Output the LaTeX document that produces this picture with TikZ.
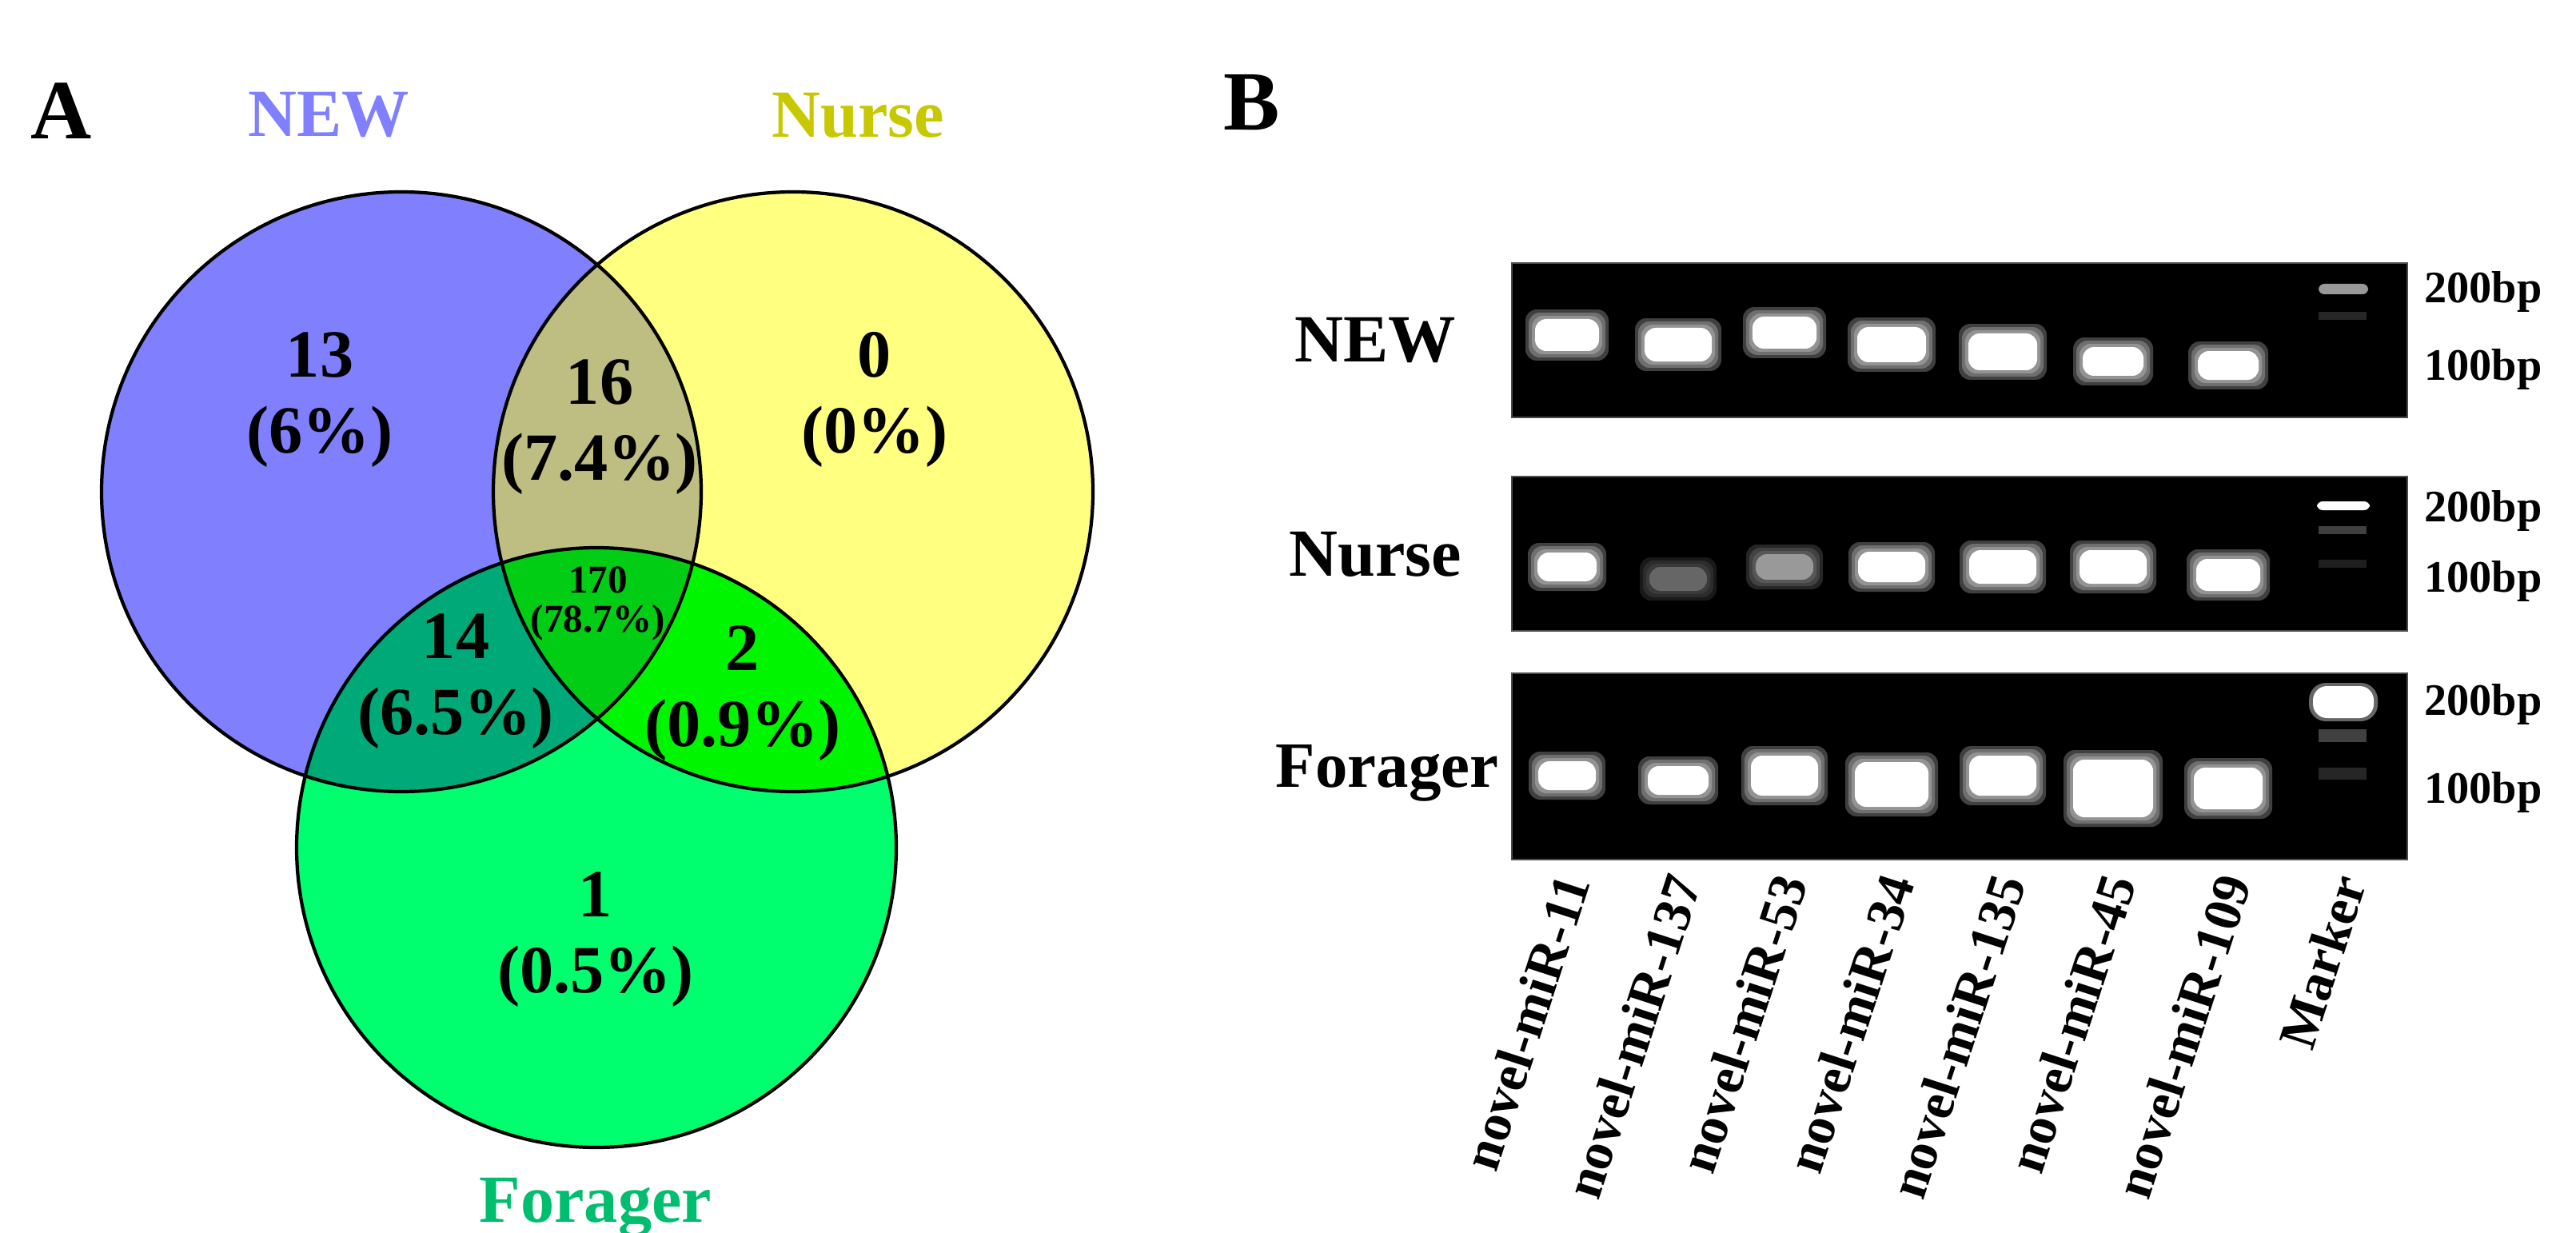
\documentclass[tikz,border=0pt]{standalone}
\usepackage{fontspec}
\setmainfont{Liberation Serif}
\usetikzlibrary{positioning}
\definecolor{newonly}{RGB}{128,128,255}
\definecolor{nurseonly}{RGB}{255,255,128}
\definecolor{foronly}{RGB}{0,255,110}
\definecolor{newnurse}{RGB}{190,190,130}
\definecolor{newfor}{RGB}{0,170,120}
\definecolor{nursefor}{RGB}{0,245,0}
\definecolor{allthree}{RGB}{0,205,20}
\definecolor{newtxt}{RGB}{128,128,255}
\definecolor{nursetxt}{RGB}{200,200,0}
\definecolor{fortxt}{RGB}{0,190,110}
\tikzset{
    set/.style={circle, minimum size=7.5cm, inner sep=0pt, draw=black, line width=1.2pt},
    big/.style={font=\fontsize{24}{27}\selectfont\bfseries, align=center},
    small/.style={font=\fontsize{14}{14}\selectfont\bfseries, align=center},
    gel/.style={fill=black, draw=black!70},
    bp/.style={font=\fontsize{16}{18}\selectfont\bfseries, anchor=west},
    lane/.style={font=\fontsize{19}{21}\selectfont\bfseries, anchor=east, rotate=72}
}
\begin{document}
\begin{tikzpicture}
\useasboundingbox (0,0) rectangle (32.22,-15.42);

% VENN DIAGRAM
\coordinate (cnew) at (5.02,-6.15);
\coordinate (cnurse) at (9.92,-6.15);
\coordinate (cfor) at (7.46,-10.6);
\def\rad{3.75}

\fill[newonly] (cnew) circle (\rad);
\fill[nurseonly] (cnurse) circle (\rad);
\fill[foronly] (cfor) circle (\rad);
\begin{scope}
    \clip (cnurse) circle (\rad);
    \fill[nursefor] (cfor) circle (\rad);
\end{scope}
\begin{scope}
    \clip (cnew) circle (\rad);
    \fill[newnurse] (cnurse) circle (\rad);
    \fill[newfor] (cfor) circle (\rad);
    \clip (cnurse) circle (\rad);
    \fill[allthree] (cfor) circle (\rad);
\end{scope}
\node[set] (new) at (cnew) {};
\node[set] (nurse) at (cnurse) {};
\node[set] (forager) at (cfor) {};

\node[font=\fontsize{30}{30}\selectfont\bfseries] (labA) at (0.77,-1.39) {A};
\node[big, text=newtxt] (tnew) at (4.11,-1.44) {NEW};
\node[big, text=nursetxt] (tnurse) at (10.73,-1.44) {Nurse};
\node[big, text=fortxt] (tfor) at (7.45,-15.1) {Forager};

% region counts
\node[big] (r13) at (4.0,-5.0) {13\\(6\%)};
\node[big] (r16) at (7.5,-5.34) {16\\(7.4\%)};
\node[big] (r0) at (10.94,-5.0) {0\\(0\%)};
\node[small] (r170) at (7.48,-7.55) {170\\(78.7\%)};
\node[big] (r14) at (5.7,-8.52) {14\\(6.5\%)};
\node[big] (r2) at (9.29,-8.67) {2\\(0.9\%)};
\node[big] (r1) at (7.45,-11.75) {1\\(0.5\%)};

% GEL PANEL
\node[font=\fontsize{30}{30}\selectfont\bfseries] (labB) at (15.66,-1.28) {B};

\draw[gel] (18.91,-3.29) rectangle (30.11,-5.22);
\draw[gel] (18.91,-5.96) rectangle (30.11,-7.89);
\draw[gel] (18.91,-8.42) rectangle (30.11,-10.75);

\node[big] (gnew) at (17.2,-4.26) {NEW};
\node[big] (gnurse) at (17.2,-6.93) {Nurse};
\node[big, font=\fontsize{23}{26}\selectfont\bfseries] (gfor) at (17.35,-9.67) {Forager};

% bands: x / y / half width / half height / brightness
\foreach \x/\y/\w/\h/\c in {19.60/4.19/0.4/0.2/100, 20.99/4.31/0.42/0.21/100, 22.32/4.16/0.4/0.2/100, 23.66/4.31/0.43/0.22/100,
    25.05/4.40/0.43/0.23/100, 26.43/4.52/0.38/0.18/100, 27.87/4.57/0.38/0.18/100,
    19.60/7.09/0.37/0.18/100, 20.99/7.24/0.36/0.15/40, 22.32/7.09/0.36/0.16/60, 23.66/7.09/0.42/0.19/100,
    25.05/7.09/0.42/0.21/100, 26.43/7.09/0.42/0.21/100, 27.87/7.19/0.4/0.2/100,
    19.60/9.70/0.36/0.18/100, 20.99/9.76/0.38/0.18/100, 22.32/9.70/0.42/0.25/100, 23.66/9.81/0.46/0.28/100,
    25.05/9.70/0.42/0.25/100, 26.43/9.86/0.5/0.36/100, 27.87/9.86/0.43/0.26/100}
{
    \foreach \k in {3,2,1}
        \fill[white!\c!black, opacity=0.25, rounded corners=4pt] (\x-\w-0.04*\k,-\y-\h-0.04*\k) rectangle (\x+\w+0.04*\k,-\y+\h+0.04*\k);
    \fill[white!\c!black, rounded corners=4pt] (\x-\w,-\y-\h) rectangle (\x+\w,-\y+\h);
}
% marker ladders
\fill[white!60!black, rounded corners=2pt] (29.00,-3.55) rectangle (29.62,-3.68);
\fill[white!15!black] (29.0,-3.9) rectangle (29.6,-4.0);
\fill[white, rounded corners=2pt] (28.98,-6.27) rectangle (29.64,-6.38);
\fill[white!25!black] (29.0,-6.58) rectangle (29.6,-6.68);
\fill[white!12!black] (29.0,-7.0) rectangle (29.6,-7.1);
\fill[white!40!black, rounded corners=6pt] (28.88,-8.54) rectangle (29.74,-9.02);
\fill[white, rounded corners=5pt] (28.93,-8.58) rectangle (29.69,-8.98);
\fill[white!25!black] (29.0,-9.12) rectangle (29.6,-9.28);
\fill[white!15!black] (29.0,-9.6) rectangle (29.6,-9.75);

\foreach \y/\a/\b in {3.65/200bp/4.62, 6.39/200bp/7.27, 8.81/200bp/9.91}
{
    \node[bp] at (30.2,-\y) {\a};
    \node[bp] at (30.2,-\b) {100bp};
}

% lane labels
\foreach \x/\t [count=\i] in {19.60/novel-miR-11, 20.99/novel-miR-137, 22.32/novel-miR-53, 23.66/novel-miR-34,
    25.05/novel-miR-135, 26.43/novel-miR-45, 27.87/novel-miR-109, 29.31/Marker}
    \node[lane] (lane\i) at (\x+0.12,-10.85) {\t};

\end{tikzpicture}
\end{document}
